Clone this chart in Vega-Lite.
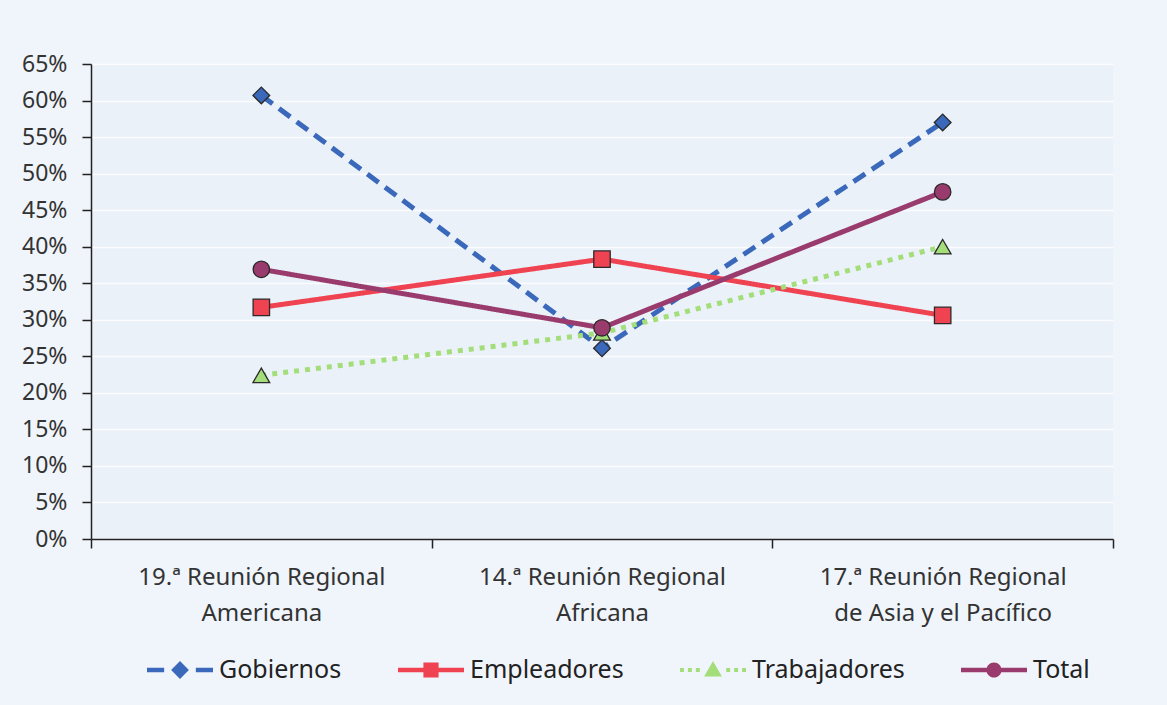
{
  "$schema": "https://vega.github.io/schema/vega-lite/v6.json",
  "width": 1022,
  "height": 475,
  "autosize": {"type": "none"},
  "padding": {"left": 91, "top": 64, "right": 54, "bottom": 166},
  "background": "#f0f5fb",
  "config": {
    "font": "Noto Sans",
    "view": {"fill": "#ebf1f9", "stroke": null},
    "axis": {"labelFont": "Noto Sans", "labelFontSize": 23, "labelColor": "#333333", "domainColor": "#222222", "domainWidth": 1.5, "tickColor": "#222222", "tickWidth": 1.5, "tickSize": 9, "title": null, "labelLimit": 0},
    "legend": {
      "orient": "none", "legendX": 56, "legendY": 573, "direction": "horizontal", "title": null,
      "padding": 0, "symbolSize": 4356, "labelFont": "Noto Sans", "labelFontSize": 25, "labelColor": "#222222", "labelOffset": 6, "columnPadding": 56, "labelLimit": 0
    }
  },
  "data": {
    "values": [
      {"reunion": "19.ª Reunión Regional Americana", "serie": "Gobiernos", "valor": 0.607},
      {"reunion": "14.ª Reunión Regional Africana", "serie": "Gobiernos", "valor": 0.261},
      {"reunion": "17.ª Reunión Regional de Asia y el Pacífico", "serie": "Gobiernos", "valor": 0.570},
      {"reunion": "19.ª Reunión Regional Americana", "serie": "Empleadores", "valor": 0.317},
      {"reunion": "14.ª Reunión Regional Africana", "serie": "Empleadores", "valor": 0.383},
      {"reunion": "17.ª Reunión Regional de Asia y el Pacífico", "serie": "Empleadores", "valor": 0.306},
      {"reunion": "19.ª Reunión Regional Americana", "serie": "Trabajadores", "valor": 0.224},
      {"reunion": "14.ª Reunión Regional Africana", "serie": "Trabajadores", "valor": 0.282},
      {"reunion": "17.ª Reunión Regional de Asia y el Pacífico", "serie": "Trabajadores", "valor": 0.400},
      {"reunion": "19.ª Reunión Regional Americana", "serie": "Total", "valor": 0.369},
      {"reunion": "14.ª Reunión Regional Africana", "serie": "Total", "valor": 0.289},
      {"reunion": "17.ª Reunión Regional de Asia y el Pacífico", "serie": "Total", "valor": 0.475}
    ]
  },
  "encoding": {
    "x": {
      "field": "reunion", "type": "nominal",
      "sort": ["19.ª Reunión Regional Americana", "14.ª Reunión Regional Africana", "17.ª Reunión Regional de Asia y el Pacífico"],
      "scale": {"type": "band", "paddingInner": 0, "paddingOuter": 0},
      "axis": {
        "orient": "bottom", "labelAngle": 0, "tickBand": "extent", "labelPadding": 17, "labelLineHeight": 36, "labelBaseline": "top", "labelFontSize": 24,
        "labelExpr": "datum.value == '19.ª Reunión Regional Americana' ? ['19.ª Reunión Regional', 'Americana'] : datum.value == '14.ª Reunión Regional Africana' ? ['14.ª Reunión Regional', 'Africana'] : datum.value == '17.ª Reunión Regional de Asia y el Pacífico' ? ['17.ª Reunión Regional', 'de Asia y el Pacífico'] : ''"
      }
    },
    "y": {
      "field": "valor", "type": "quantitative",
      "scale": {"domain": [0, 0.65], "nice": false},
      "axis": {"format": ".0%", "values": [0, 0.05, 0.1, 0.15, 0.2, 0.25, 0.3, 0.35, 0.4, 0.45, 0.5, 0.55, 0.6, 0.65], "grid": true, "gridColor": "#fafcff", "gridWidth": 1.5, "labelPadding": 15}
    },
    "color": {
      "field": "serie", "type": "nominal",
      "scale": {"domain": ["Gobiernos", "Empleadores", "Trabajadores", "Total"], "range": ["#3a68ba", "#ef4352", "#a3de7a", "#9a3b6d"]},
      "legend": {
        "encode": {
          "symbols": {
            "update": {
              "stroke": {"value": "transparent"},
              "strokeWidth": {"value": 0},
              "strokeDash": {"value": [1, 0]},
              "size": {"value": 4356},
              "opacity": {"value": 1}
            }
          }
        }
      }
    }
  },
  "layer": [
    {
      "mark": {"type": "line", "strokeWidth": 5, "strokeCap": "butt"},
      "encoding": {
        "strokeDash": {
          "field": "serie", "type": "nominal",
          "scale": {"domain": ["Gobiernos", "Empleadores", "Trabajadores", "Total"], "range": [[14, 8], [1, 0], [5, 6], [1, 0]]},
          "legend": null
        }
      }
    },
    {
      "transform": [{"filter": "datum.serie == 'Gobiernos'"}],
      "mark": {"type": "point", "filled": true, "shape": "diamond", "size": 280, "stroke": "#2a2a2a", "strokeWidth": 1.3, "opacity": 1}
    },
    {
      "transform": [{"filter": "datum.serie == 'Empleadores'"}],
      "mark": {"type": "point", "filled": true, "shape": "square", "size": 270, "stroke": "#2a2a2a", "strokeWidth": 1.3, "opacity": 1}
    },
    {
      "transform": [{"filter": "datum.serie == 'Trabajadores'"}],
      "mark": {"type": "point", "filled": true, "shape": "triangle-up", "size": 280, "stroke": "#2a2a2a", "strokeWidth": 1.3, "opacity": 1}
    },
    {
      "transform": [{"filter": "datum.serie == 'Total'"}],
      "mark": {"type": "point", "filled": true, "shape": "circle", "size": 270, "stroke": "#2a2a2a", "strokeWidth": 1.3, "opacity": 1}
    },
    {
      "transform": [{"filter": "false"}],
      "mark": {"type": "point", "filled": true, "opacity": 1},
      "encoding": {
        "shape": {
          "field": "serie", "type": "nominal",
          "scale": {
            "domain": ["Gobiernos", "Empleadores", "Trabajadores", "Total"],
            "range": [
              "M-1,-0.07H-0.48V0.07H-1Z M0.48,-0.07H1V0.07H0.48Z M0,-0.27L0.27,0L0,0.27L-0.27,0Z",
              "M-1,-0.07H1V0.07H-1Z M-0.23,-0.23H0.23V0.23H-0.23Z",
              "M-1,-0.06H-0.88V0.06H-1Z M-0.76,-0.06H-0.64V0.06H-0.76Z M-0.52,-0.06H-0.4V0.06H-0.52Z M0.4,-0.06H0.52V0.06H0.4Z M0.64,-0.06H0.76V0.06H0.64Z M0.88,-0.06H1V0.06H0.88Z M0,-0.27L0.27,0.2L-0.27,0.2Z",
              "M-1,-0.07H1V0.07H-1Z M-0.23,0A0.23,0.23 0 1,1 0.23,0A0.23,0.23 0 1,1 -0.23,0Z"
            ]
          },
          "legend": {}
        }
      }
    }
  ]
}
